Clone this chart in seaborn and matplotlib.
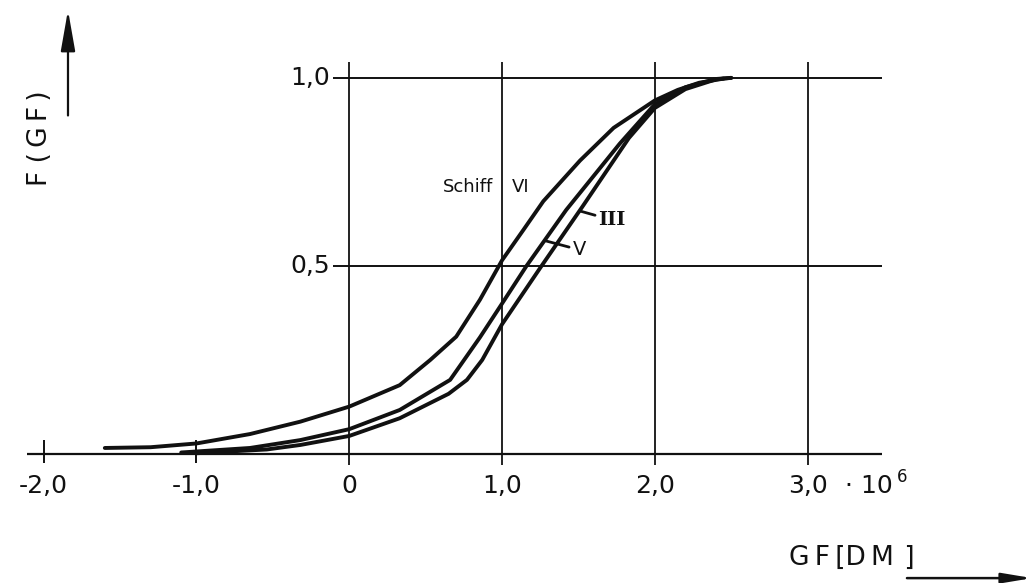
import numpy as np
import pandas as pd
import matplotlib
matplotlib.use("Agg")
import matplotlib.pyplot as plt
import seaborn as sns

# distribution curves F(GF) per ship (GF in 10^6 DM)
gf_vi = [-1.6, -1.3, -1.0, -0.65, -0.32, 0.0, 0.33, 0.53, 0.7, 0.855, 1.0, 1.14, 1.27, 1.51, 1.73, 2.0, 2.15, 2.29, 2.45]
f_vi = [0.016, 0.018, 0.028, 0.053, 0.086, 0.126, 0.183, 0.25, 0.312, 0.41, 0.515, 0.596, 0.672, 0.78, 0.867, 0.94, 0.968, 0.987, 0.998]

gf_v = [-1.1, -0.65, -0.32, 0.0, 0.33, 0.66, 0.855, 1.0, 1.16, 1.42, 1.77, 2.0, 2.2, 2.4, 2.5]
f_v = [0.004, 0.016, 0.037, 0.066, 0.117, 0.197, 0.31, 0.40, 0.5, 0.649, 0.825, 0.93, 0.975, 0.997, 1.0]

gf_iii = [-1.0, -0.54, -0.32, 0.0, 0.33, 0.65, 0.77, 0.87, 1.0, 1.25, 1.53, 1.83, 2.0, 2.2, 2.4, 2.5]
f_iii = [0.002, 0.012, 0.024, 0.048, 0.095, 0.16, 0.197, 0.25, 0.345, 0.495, 0.66, 0.84, 0.92, 0.97, 0.996, 1.0]

x_ticks = [-2, -1, 0, 1, 2, 3]
x_tick_labels = ["-2,0", "-1,0", "0", "1,0", "2,0", "3,0"]
y_ticks = [0.5, 1.0]
y_tick_labels = ["0,5", "1,0"]

INK = "#111111"
TS = "\u2009"  # thin space for the wide lettering of the scan

df = pd.concat([
    pd.DataFrame({"GF": gf_vi, "F": f_vi, "Schiff": "VI"}),
    pd.DataFrame({"GF": gf_v, "F": f_v, "Schiff": "V"}),
    pd.DataFrame({"GF": gf_iii, "F": f_iii, "Schiff": "III"}),
])

sns.set_style("white")
plt.rcParams["font.family"] = ["DejaVu Sans"]

fig = plt.figure(figsize=(10.35, 5.83), dpi=100)
ax = fig.add_axes([0, 0, 1, 1])
ax.set_xlim(-2.286, 4.488)
ax.set_ylim(-0.343, 1.207)
ax.axis("off")

# grid and axis lines
ax.hlines(0, -2.11, 3.486, color=INK, lw=1.6)
ax.hlines(y_ticks, -0.107, 3.486, color=INK, lw=1.4)
ax.vlines([t for t in x_ticks if t >= 0], -0.03, 1.043, color=INK, lw=1.3)
ax.vlines([t for t in x_ticks if t < 0], -0.024, 0.037, color=INK, lw=1.4)

# curves
sns.lineplot(data=df, x="GF", y="F", hue="Schiff", units="Schiff", estimator=None,
             palette={"VI": INK, "V": INK, "III": INK}, lw=2.8, legend=False,
             sort=False, ax=ax, solid_capstyle="round", solid_joinstyle="round")

# tick labels
for t, lab in zip(x_ticks, x_tick_labels):
    ax.text(t, -0.085, lab, ha="center", va="center", fontsize=18, color=INK)
ax.text(3.244, -0.085, "\u00b7 10", ha="left", va="center", fontsize=18, color=INK)
ax.text(3.584, -0.06, "6", ha="left", va="center", fontsize=12, color=INK)
for t, lab in zip(y_ticks, y_tick_labels):
    ax.text(-0.125, t, lab, ha="right", va="center", fontsize=18, color=INK)

# curve labels
ax.text(0.94, 0.71, "Schiff", ha="right", va="center", fontsize=13, color=INK)
ax.text(1.065, 0.71, "VI", ha="left", va="center", fontsize=13, color=INK)
ax.annotate("III", xy=(1.51, 0.646), xytext=(1.63, 0.622), ha="left", va="center",
            fontsize=14, fontweight="bold", family="DejaVu Serif", color=INK,
            arrowprops=dict(arrowstyle="-", color=INK, lw=2, shrinkA=0, shrinkB=0))
ax.annotate("V", xy=(1.282, 0.567), xytext=(1.46, 0.543), ha="left", va="center",
            fontsize=14, color=INK,
            arrowprops=dict(arrowstyle="-", color=INK, lw=2, shrinkA=0, shrinkB=0))

# axis titles with arrows
ylab = "F " + TS.join("(GF)")
ax.text(-2.024, 0.84, ylab, rotation=90, ha="center", va="center", fontsize=19, color=INK)
ax.annotate("", xy=(-1.841, 1.18), xytext=(-1.841, 0.90),
            arrowprops=dict(arrowstyle="-|>,head_length=1.25,head_width=0.22",
                            mutation_scale=20, color=INK, lw=1.6, shrinkA=0, shrinkB=0))
xlab = TS.join("GF") + TS + "[" + TS.join("DM") + TS * 2 + "]"
ax.text(3.29, -0.277, xlab, ha="center", va="center", fontsize=19, color=INK)
ax.annotate("", xy=(4.47, -0.33), xytext=(3.65, -0.33),
            arrowprops=dict(arrowstyle="-|>,head_length=0.9,head_width=0.15",
                            mutation_scale=20, color=INK, lw=1.8, shrinkA=0, shrinkB=0))

fig.savefig("out.png", dpi=100)
plt.close(fig)
